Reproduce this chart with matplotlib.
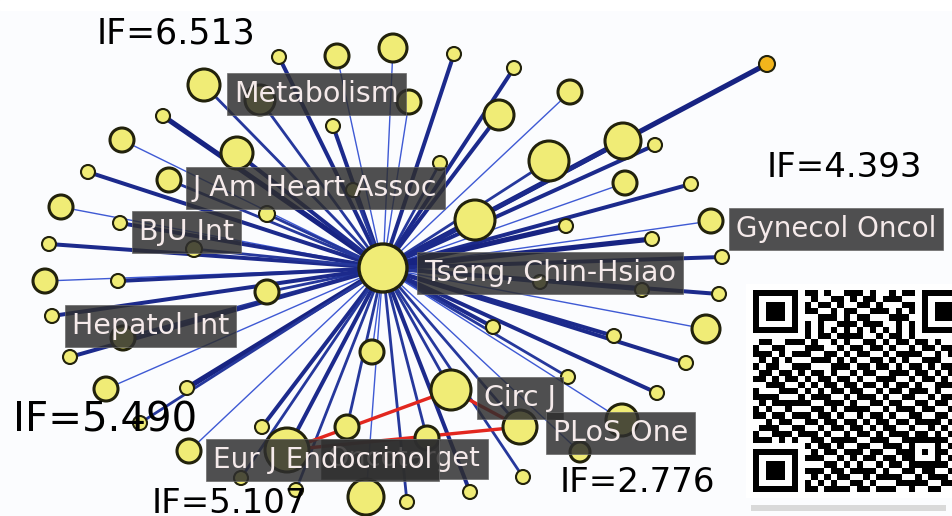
import numpy as np
import matplotlib
matplotlib.use("Agg")
import matplotlib.pyplot as plt
from matplotlib.patches import Circle, Rectangle
from matplotlib.collections import LineCollection

# co-author / journal network around one author (layout, pixels)
center = (383, 268)
center_r = 24

node_x = [279, 337, 393, 454, 204, 260, 409, 163, 333, 122, 237, 88, 169, 440, 353, 61, 120, 267, 49, 194,
          514, 570, 499, 767, 549, 623, 655, 625, 691, 711, 566, 652, 722, 475,
          719, 706, 493, 614, 686, 568, 657, 622, 520, 580, 523, 470, 540, 642, 451,
          45, 118, 267, 52, 123, 70, 372, 106, 187, 140, 262, 347, 287, 189, 427, 241, 296, 366, 407]
node_y = [57, 56, 48, 54, 85, 100, 102, 116, 126, 140, 153, 172, 180, 163, 190, 207, 223, 214, 244, 249,
          68, 92, 115, 64, 161, 141, 145, 183, 184, 221, 226, 239, 257, 220,
          294, 329, 327, 336, 363, 377, 393, 420, 427, 452, 477, 492, 282, 290, 390,
          281, 281, 292, 316, 338, 357, 352, 389, 388, 423, 427, 427, 450, 451, 438, 478, 490, 497, 502]
node_r = [7, 12, 14, 7, 16, 15, 12, 7, 7, 12, 16, 7, 12, 7, 7, 12, 7, 8, 7, 8,
          7, 12, 15, 8, 20, 18, 7, 12, 7, 12, 7, 7, 7, 20,
          7, 14, 7, 7, 7, 7, 7, 16, 17, 10, 7, 7, 7, 7, 20,
          12, 7, 12, 7, 12, 7, 12, 12, 7, 7, 7, 12, 22, 12, 12, 7, 7, 18, 7]
link_strength = [3, 1, 1, 3, 2, 2, 1, 4, 3, 1, 3, 3, 2, 2, 2, 1, 3, 2, 3, 2,
                 3, 1, 3, 4, 2, 3, 3, 1, 3, 1, 4, 4, 3, 3,
                 3, 1, 3, 3, 3, 2, 3, 1, 2, 1, 2, 3, 2, 2, 2,
                 1, 3, 2, 3, 2, 3, 1, 1, 4, 2, 3, 2, 3, 1, 2, 2, 2, 1, 2]
orange_node = 23

# red links among three journals: Eur J Endocrinol, Circ J, PLoS One
red_links = [(61, 48), (61, 42), (48, 42)]

labels = ["Metabolism", "J Am Heart Assoc", "BJU Int", "Hepatol Int", "Tseng, Chin-Hsiao",
          "Gynecol Oncol", "Circ J", "PLoS One", "Oncotarget", "Eur J Endocrinol"]
label_x = [234, 193, 139, 72, 424, 736, 484, 553, 328, 213]
label_y = [94, 188, 232, 326, 273, 229, 398, 433, 459, 460]
label_size = [20.5, 20.5, 20.5, 20.5, 20.5, 20, 20.5, 20.5, 19.5, 20]

if_text = ["IF=6.513", "IF=4.393", "IF=5.490", "IF=5.107", "IF=2.776"]
if_x = [97, 767, 13, 152, 560]
if_y = [43, 177, 432, 513, 492]
if_size = [25, 24.5, 29, 24.5, 24.5]

# QR code modules (hand copied approximation)
qr_rows = [
    "110100101101001110100101100111010",
    "011011100100110101101110010100111",
    "100110011011010011010001101011001",
    "111001101100101100111010110010110",
    "010110010011101011000111001101011",
    "101011101010011101110010110110100",
    "001100110101100010101101011001101",
    "110111001011011110010110100111010",
    "011001110100101001101011011010011",
    "100110101110010110110100101101110",
    "111010011001101011001011110010101",
    "010101100111010100110101001110011",
    "101100111000111011011010110101100",
    "011011010110100101100111011010111",
    "110101101011011010011100101101001",
    "001110010101101101101011010011110",
    "100011101010110110010110111010010",
    "111100110111001011101001100101101",
    "010111011001110100110110011011010",
    "101001100110101111001011101100111",
    "110110111011010010110100110011001",
    "001011001101101101011011011110110",
    "011100110010110110101100100101011",
    "100111011101001011010111011010100",
    "111010100110111100111001101101011",
    "010101111011010011001110110010110",
    "101110010101101110110011001111001",
    "110001101110010101101101110100110",
    "011110110001101010010110011011011",
    "100101011110110111101001101100101",
    "111011100101011001011110010111010",
    "010100111010100110100011111001101",
    "101111001101111011011100100110011",
]

fig = plt.figure(figsize=(9.53, 5.16), dpi=100)
ax = fig.add_axes([0, 0, 1, 1])
ax.set_xlim(0, 953)
ax.set_ylim(516, 0)
ax.axis("off")
fig.patch.set_facecolor("#fbfcfe")
ax.add_patch(Rectangle((0, 0), 953, 10, color="white", zorder=0))

px = 0.72  # points per pixel
edge_col = {1: "#3f5ad4", 2: "#26389c", 3: "#1c2a8c", 4: "#172382"}
edge_lw = {1: 1.4, 2: 2.8, 3: 4.0, 4: 5.2}

segs, cols, lws = [], [], []
for x, y, w in zip(node_x, node_y, link_strength):
    segs.append([center, (x, y)])
    cols.append(edge_col[w])
    lws.append(edge_lw[w] * px)
ax.add_collection(LineCollection(segs, colors=cols, linewidths=lws, zorder=1, capstyle="round"))

red_segs = [[(node_x[a], node_y[a]), (node_x[b], node_y[b])] for a, b in red_links]
ax.add_collection(LineCollection(red_segs, colors="#e2271f", linewidths=3.4 * px, zorder=1.5))

for i, (x, y, r) in enumerate(zip(node_x, node_y, node_r)):
    fc = "#f2b51c" if i == orange_node else "#f0ec76"
    lw = 1.5 if r < 10 else 2.2
    ax.add_patch(Circle((x, y), r, facecolor=fc, edgecolor="#22220c", lw=lw, zorder=2))
ax.add_patch(Circle(center, center_r, facecolor="#f0ec76", edgecolor="#22220c", lw=2.4, zorder=2))

for t, x, y, s in zip(labels, label_x, label_y, label_size):
    ax.text(x, y, t, ha="left", va="center", fontsize=s, color="#f5eaea",
            family="DejaVu Sans", zorder=5,
            bbox=dict(boxstyle="square,pad=0.25", facecolor="#2e2e2e", alpha=0.84,
                      edgecolor="#6a6a6a", linewidth=0.6))

for t, x, y, s in zip(if_text, if_x, if_y, if_size):
    ax.text(x, y, t, ha="left", va="baseline", fontsize=s, color="#000000",
            family="DejaVu Sans", zorder=6)

# QR code block
n = 33
qr = np.array([[int(c) for c in (row * 2)[:n]] for row in qr_rows])


def finder(r0, c0):
    qr[max(r0 - 1, 0):r0 + 8, max(c0 - 1, 0):c0 + 8] = 0
    qr[r0:r0 + 7, c0:c0 + 7] = 1
    qr[r0 + 1:r0 + 6, c0 + 1:c0 + 6] = 0
    qr[r0 + 2:r0 + 5, c0 + 2:c0 + 5] = 1


qr[6, 8:n - 8] = [(k + 1) % 2 for k in range(8, n - 8)]
qr[8:n - 8, 6] = [(k + 1) % 2 for k in range(8, n - 8)]
finder(0, 0)
finder(0, n - 7)
finder(n - 7, 0)
qr[24:29, 24:29] = 1
qr[25:28, 25:28] = 0
qr[26, 26] = 1

ax.add_patch(Rectangle((746, 284), 207, 214, facecolor="white", edgecolor="none", zorder=3))
ax.imshow(1 - qr, cmap="gray", extent=(753, 967, 492, 290), interpolation="nearest",
          zorder=4, vmin=0, vmax=1, aspect="auto")
ax.add_patch(Rectangle((751, 505), 195, 6, facecolor="#d9d9d9", edgecolor="none", zorder=3))
ax.set_xlim(0, 953)
ax.set_ylim(516, 0)

fig.savefig("out.png", dpi=100, facecolor=fig.get_facecolor())
